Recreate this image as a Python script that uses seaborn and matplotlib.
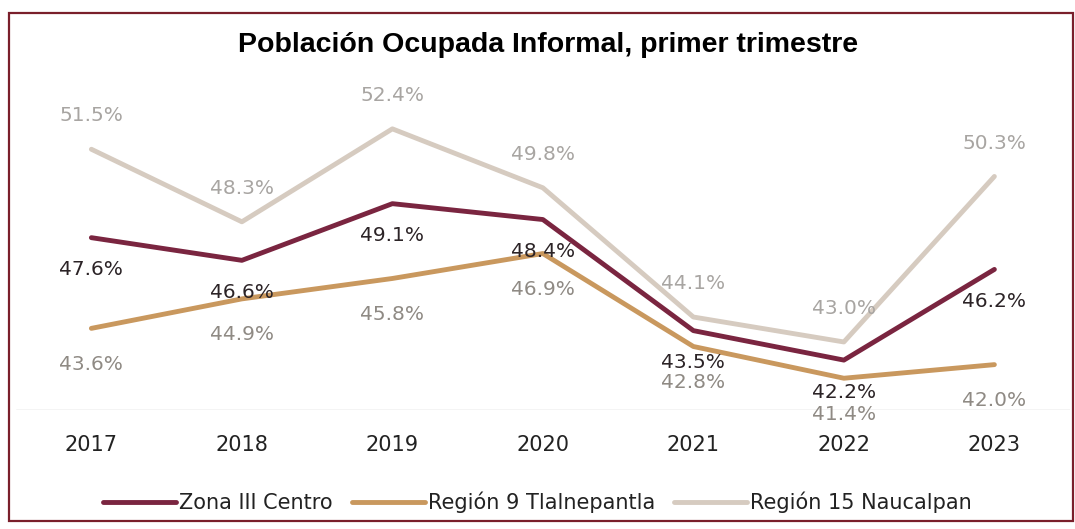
import pandas as pd
import seaborn as sns
import matplotlib.pyplot as plt
from matplotlib.patches import Rectangle
from matplotlib.lines import Line2D

# Data
years = ["2017", "2018", "2019", "2020", "2021", "2022", "2023"]
zona_iii = [47.6, 46.6, 49.1, 48.4, 43.5, 42.2, 46.2]
tlalnepantla = [43.6, 44.9, 45.8, 46.9, 42.8, 41.4, 42.0]
naucalpan = [51.5, 48.3, 52.4, 49.8, 44.1, 43.0, 50.3]
series_names = ["Zona III Centro", "Región 9 Tlalnepantla", "Región 15 Naucalpan"]

df = pd.DataFrame({
    "year": years * 3,
    "value": zona_iii + tlalnepantla + naucalpan,
    "serie": [s for s in series_names for _ in years],
})

line_colors = {"Zona III Centro": "#7a2540",
               "Región 9 Tlalnepantla": "#c9985e",
               "Región 15 Naucalpan": "#d6cbc0"}
label_colors = {"Zona III Centro": "#2b2326",
                "Región 9 Tlalnepantla": "#8f8a84",
                "Región 15 Naucalpan": "#a8a5a2"}
label_offset = {"Zona III Centro": -23,
                "Región 9 Tlalnepantla": -26,
                "Región 15 Naucalpan": 24}

sns.set_style("white")
plt.rcParams['font.family'] = ['DejaVu Sans']

fig = plt.figure(figsize=(10.75, 5.29), dpi=100)
ax = fig.add_axes([0.015, 0.225, 0.98, 0.6])

# draw naucalpan first so the others sit on top
order = ["Región 15 Naucalpan", "Región 9 Tlalnepantla", "Zona III Centro"]
for name in order:
    sub = df[df["serie"] == name]
    sns.lineplot(data=sub, x="year", y="value", color=line_colors[name],
                 linewidth=3.5, ax=ax, legend=False, sort=False)
    for i, v in enumerate(sub["value"]):
        ax.annotate(f"{v:.1f}%", (i, v), xytext=(0, label_offset[name]),
                    textcoords="offset points", ha="center", va="center",
                    fontsize=14.5, color=label_colors[name])

ax.set_xlim(-0.5, 6.5)
ax.set_ylim(40, 54)
ax.set_yticks([])
ax.set_xlabel("")
ax.set_ylabel("")
ax.axhline(40, color="#c8c8c8", linewidth=1)
for s in ax.spines.values():
    s.set_visible(False)
ax.tick_params(axis="x", length=0, labelsize=15, labelcolor="#222222", pad=18)

fig.suptitle("Población Ocupada Informal, primer trimestre", x=0.51, y=0.94,
             fontsize=20.5, fontweight="bold", color="black", family="Liberation Sans")

handles = [Line2D([0], [0], color=line_colors[n], linewidth=3.5) for n in series_names]
fig.legend(handles, series_names, loc="lower center", bbox_to_anchor=(0.5, -0.005),
           ncol=3, frameon=False, fontsize=15, handlelength=3.5,
           handletextpad=0.15, columnspacing=0.9, labelcolor="#222222")

# outer dark-red frame like the original
fig.patches.append(Rectangle((0.008, 0.015), 0.99, 0.96, transform=fig.transFigure,
                             fill=False, edgecolor="#7a1f2b", linewidth=1.6))

fig.savefig("out.png", dpi=100)
